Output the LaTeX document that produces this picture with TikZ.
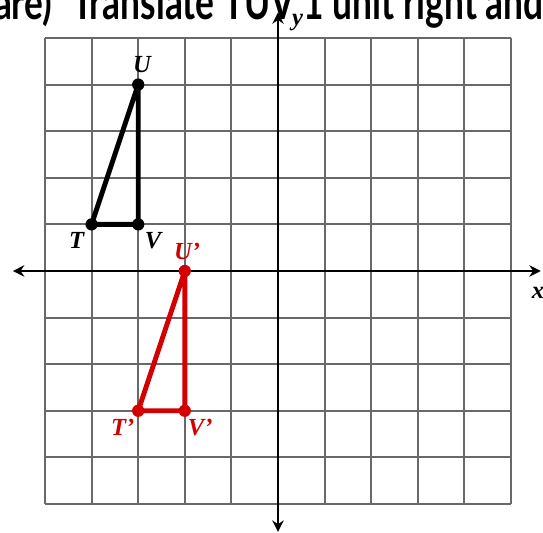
\documentclass[tikz,border=0pt]{standalone}
\usepackage{fontspec}
\setmainfont{Liberation Serif}
\newfontfamily\titlefont{Lato}
\usetikzlibrary{arrows.meta}
\definecolor{gridgray}{RGB}{105,105,105}
\definecolor{trired}{RGB}{210,0,0}
\tikzset{
  gridline/.style={draw=gridgray, line width=1.2pt},
  axisline/.style={draw=black, line width=1.1pt, -{Stealth[length=7pt,width=7pt]}},
  triblack/.style={draw=black, line width=3pt, line join=round},
  trired/.style={draw=trired, line width=3pt, line join=round},
  vdot/.style={circle, inner sep=0pt, minimum size=7.5pt},
  ptlabel/.style={font=\fontsize{15}{15}\selectfont\bfseries\itshape, inner sep=0pt},
  titletext/.style={anchor=base west, inner sep=0pt, font=\titlefont\bfseries}
}
\begin{document}
\begin{tikzpicture}[x=1cm,y=1cm]
\useasboundingbox (-5.966,-5.622) rectangle (5.687,5.815);
\clip (-5.966,-5.622) rectangle (5.687,5.815);
% title (clipped at top)
\node[titletext] (t1) at (-6.1,5.4) {\resizebox{1.25cm}{0.78cm}{are)}};
\node[titletext] (t2) at (-4.42,5.4) {\resizebox{10.11cm}{0.78cm}{Translate TUV 1 unit right and}};
% grid
\foreach \i in {-5,...,5} {
  \draw[gridline] (\i,-5) -- (\i,5);
  \draw[gridline] (-5,\i) -- (5,\i);
}
% axes
\coordinate (xl) at (-5.69,0);
\coordinate (xr) at (5.64,0);
\coordinate (yb) at (0,-5.6);
\coordinate (yt) at (0,5.55);
\coordinate (o) at (0,0);
\draw[axisline] (o) -- (xr);
\draw[axisline] (o) -- (xl);
\draw[axisline] (o) -- (yt);
\draw[axisline] (o) -- (yb);
\node[ptlabel] (ylab) at (0.42,5.33) {y};
\node[ptlabel] (xlab) at (5.58,-0.47) {x};
% original triangle
\node[vdot, fill=black] (T) at (-4,1) {};
\node[vdot, fill=black] (U) at (-3,4) {};
\node[vdot, fill=black] (V) at (-3,1) {};
\draw[triblack] (T.center) -- (U.center) -- (V.center) -- cycle;
\node[ptlabel] (Tl) at (-4.32,0.66) {T};
\node[ptlabel] (Vl) at (-2.68,0.66) {V};
\node[ptlabel] (Ul) at (-2.92,4.42) {U};
% image triangle
\node[vdot, fill=trired] (T2) at (-3,-3) {};
\node[vdot, fill=trired] (U2) at (-2,0) {};
\node[vdot, fill=trired] (V2) at (-2,-3) {};
\draw[trired] (T2.center) -- (U2.center) -- (V2.center) -- cycle;
\node[ptlabel, text=trired] (T2l) at (-3.33,-3.35) {T'};
\node[ptlabel, text=trired] (V2l) at (-1.67,-3.35) {V'};
\node[ptlabel, text=trired] (U2l) at (-1.95,0.42) {U'};
\end{tikzpicture}
\end{document}
